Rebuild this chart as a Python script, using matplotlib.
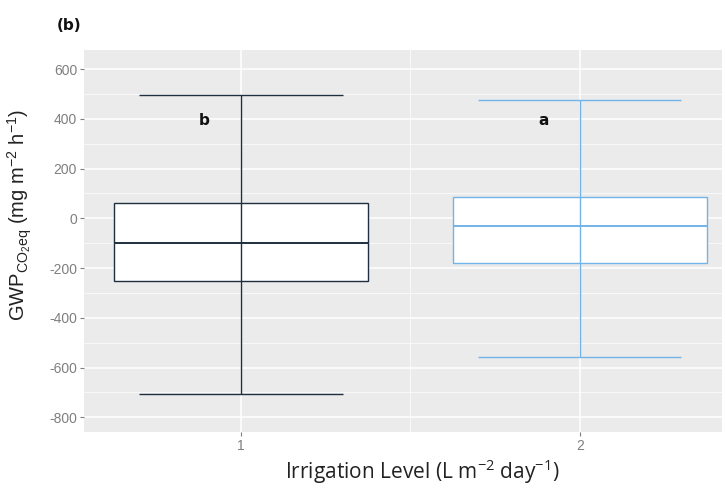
import matplotlib
matplotlib.use('Agg')
import matplotlib.pyplot as plt
from matplotlib.ticker import MultipleLocator, FixedLocator

### Data ###

levels = [1, 2]
q1 = [-250, -178]
medians = [-98, -31]
q3 = [60, 84]
lower = [-706, -559]
upper = [494, 476]
letters = ['b', 'a']
colors = ['#1f2f40', '#72b3e8']

### Plot ###

plt.rcParams['font.family'] = ['Liberation Sans', 'DejaVu Sans']
plt.rcParams['axes.unicode_minus'] = False

fig = plt.figure(figsize=(7.26, 4.93), dpi=100)
ax = fig.add_axes([0.1157, 0.1237, 0.8788, 0.775])
ax.set_facecolor('#EBEBEB')

box_w = 0.75
cap_w = 0.6
for x, lo, a, m, b, hi, c, let in zip(levels, lower, q1, medians, q3, upper, colors, letters):
    ax.bar(x, b - a, bottom=a, width=box_w, color='white', edgecolor=c, linewidth=1.0, zorder=3)
    ax.hlines(m, x - box_w / 2, x + box_w / 2, color=c, linewidth=1.4, zorder=4)
    ax.vlines(x, lo, hi, color=c, linewidth=1.0, zorder=4)
    ax.hlines([lo, hi], x - cap_w / 2, x + cap_w / 2, color=c, linewidth=1.0, zorder=4)
    ax.text(x - 0.108, 395, let, ha='center', va='center', fontsize=11,
            fontweight='bold', family='DejaVu Sans', color='#111111', zorder=5)

ax.set_xlim(0.537, 2.42)
ax.set_ylim(-859, 677)
ax.yaxis.set_major_locator(MultipleLocator(200))
ax.yaxis.set_minor_locator(MultipleLocator(100))
ax.xaxis.set_major_locator(FixedLocator(levels))
ax.xaxis.set_minor_locator(FixedLocator([1.5]))
ax.set_xticklabels([str(v) for v in levels])

ax.grid(which='major', color='white', linewidth=1.1, zorder=0)
ax.grid(which='minor', color='white', linewidth=0.5, zorder=0)
ax.set_axisbelow(True)
for s in ax.spines.values():
    s.set_visible(False)

ax.tick_params(which='major', length=3, width=0.8, color='#7f7f7f', labelcolor='#7f7f7f',
               labelsize=10, pad=2)
ax.tick_params(which='minor', length=0)

ax.set_ylabel(r'GWP$_{\mathregular{CO_2eq}}$ (mg m$^{\mathregular{-2}}$ h$^{\mathregular{-1}}$)',
              fontsize=14.5, color='#222222')
ax.yaxis.set_label_coords(-0.078, 0.567)
ax.set_xlabel(r'Irrigation Level (L m$^{\mathregular{-2}}$ day$^{\mathregular{-1}}$)',
              fontsize=15, color='#222222', family=['Open Sans', 'DejaVu Sans'])
ax.xaxis.set_label_coords(0.53, -0.066)

fig.text(0.078, 0.948, '(b)', fontsize=11, fontweight='bold', family='DejaVu Sans',
         color='#111111', va='center')

fig.savefig('out.png', dpi=100)
